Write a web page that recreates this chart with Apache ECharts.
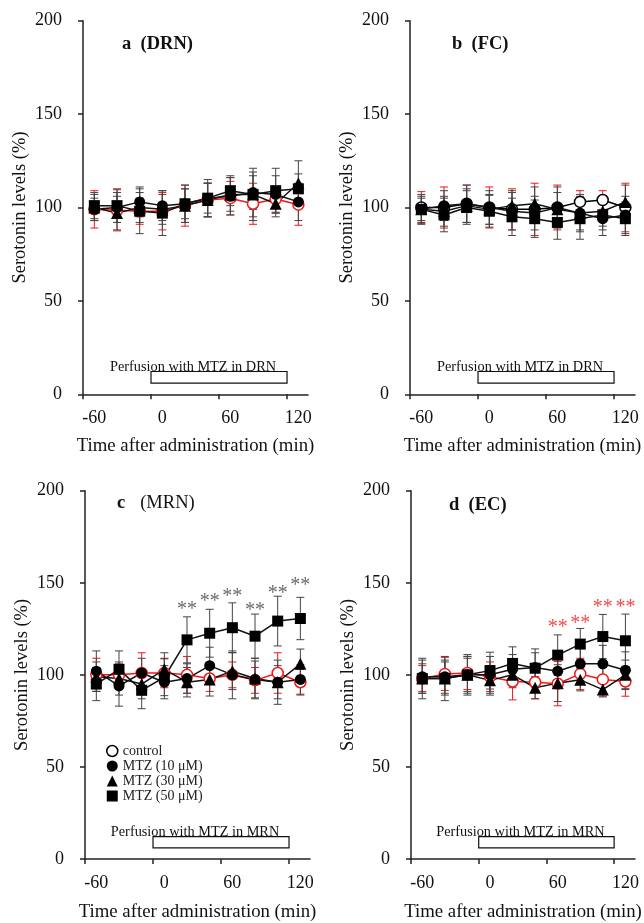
<!DOCTYPE html>
<html>
<head>
<meta charset="utf-8">
<script src="https://cdn.jsdelivr.net/npm/echarts@6/dist/echarts.min.js"></script>
<style>html,body{margin:0;padding:0;background:#fff;}#c{width:644px;height:923px;}</style>
</head>
<body>
<div id="c"></div>
<script>
// ---- data ----
const timePoints = [-60, -40, -20, 0, 20, 40, 60, 80, 100, 120];
const xTickValues = [-70, -10, 50, 110];
const xLabelValues = [-60, 0, 60, 120];
const yTicks = [0, 50, 100, 150, 200];
const seriesNames = ['control', 'MTZ (10 μM)', 'MTZ (30 μM)', 'MTZ (50 μM)'];
const panelTitles = ['a', 'b', 'c', 'd'];
const panelRegions = ['(DRN)', '(FC)', '(MRN)', '(EC)'];
const perfusionTexts = ['Perfusion with MTZ in DRN', 'Perfusion with MTZ in DRN', 'Perfusion with MTZ in MRN', 'Perfusion with MTZ in MRN'];
const perfusionStart = -10;
const perfusionEnd = 110;
const perfusionLow = 6;
const perfusionHigh = 12.2;

// Panel a (DRN)
const ctrlA = [99, 98.5, 98, 98, 101, 104, 105, 102, 104.5, 101.5];
const ctrlA_sd = [10, 11, 7, 10, 11, 9, 9, 11, 7, 11];
const m10A = [99, 100, 103, 101, 102, 105, 106, 108, 107, 103];
const m10A_sd = [6, 8, 8, 8, 8, 8, 10, 9, 10, 10];
const m30A = [100, 97, 100, 99, 101, 104, 107, 107, 102, 113];
const m30A_sd = [7, 9, 8, 8, 9, 9, 9, 12, 7, 12];
const m50A = [101, 101, 98, 97, 102, 105, 109, 107, 109, 110];
const m50A_sd = [7, 9, 12, 12, 10, 10, 8, 14, 12, 8];

// Panel b (FC)
const ctrlB = [100, 100, 102, 100, 99, 99, 100, 103, 104, 100];
const ctrlB_sd = [8.5, 11, 10, 11, 11, 14, 12, 6, 5, 13];
const m10B = [99, 101, 102, 100, 98, 97, 100, 97, 94, 96];
const m10B_sd = [7, 8, 10, 9, 10, 9, 11, 10, 9, 10];
const m30B = [99, 98, 101, 99, 101, 102, 99, 97, 98, 103];
const m30B_sd = [6, 8, 9, 8, 8, 9, 9, 9, 8, 9];
const m50B = [99, 96, 100, 98, 95, 94, 92, 94, 96, 94];
const m50B_sd = [8, 9, 9, 8.5, 10, 10, 9, 11, 8, 9];

// Panel c (MRN)
const ctrlC = [100, 100, 101, 101, 100, 98, 100, 97, 101, 96];
const ctrlC_sd = [9, 6, 11, 8, 10, 7, 7, 7, 11, 7];
const m10C = [102, 94, 101, 96, 98, 105, 100, 97.5, 96, 97.5];
const m10C_sd = [11, 11, 8, 9, 8, 10, 13, 10, 9, 8];
const m30C = [99, 98, 95, 103, 96, 97.5, 102, 98, 96, 106];
const m30C_sd = [8, 9, 8, 9, 8, 9, 10, 11, 12, 8];
const m50C = [95, 103, 91.6, 98.7, 119, 122.6, 125.6, 121, 129.2, 130.6];
const m50C_sd = [9, 10, 10, 10, 12.5, 13, 13.5, 12, 13.5, 11.5];

// Panel d (EC)
const ctrlD = [98, 100.5, 101, 99, 96.4, 96, 95.2, 100.5, 97.5, 96.4];
const ctrlD_sd = [7, 9, 9, 8, 10, 9, 12, 8.5, 9, 8];
const m10D = [99, 99, 100, 100, 103, 104, 102, 106, 106, 102.5];
const m10D_sd = [9, 9, 10, 10, 8, 8, 9, 9, 10, 10];
const m30D = [98, 98, 100, 97, 100, 93, 95.5, 97.3, 92, 100];
const m30D_sd = [8, 9, 9, 8, 7, 6, 10, 6, 4, 8];
const m50D = [98, 98, 100, 102.3, 106.2, 103.6, 110.7, 116.7, 120.8, 118.5];
const m50D_sd = [11, 12, 11, 10, 9, 10.5, 11, 8.5, 12, 14.5];

// significance markers
const sigC_x = [20, 40, 60, 80, 100, 120];
const sigC_y = [138, 142.5, 145, 137.6, 147, 151];
const sigD_x = [60, 80, 100, 120];
const sigD_y = [128.5, 130.6, 139, 139];

// ---- build chart ----
const FONT = 'Liberation Serif';
const RED = '#f01818';
const panels = [
  {means: [ctrlA, m10A, m30A, m50A], sds: [ctrlA_sd, m10A_sd, m30A_sd, m50A_sd], ctrlLine: RED, sigX: null, sigY: null, sigColor: null},
  {means: [ctrlB, m10B, m30B, m50B], sds: [ctrlB_sd, m10B_sd, m30B_sd, m50B_sd], ctrlLine: '#000', sigX: null, sigY: null, sigColor: null},
  {means: [ctrlC, m10C, m30C, m50C], sds: [ctrlC_sd, m10C_sd, m30C_sd, m50C_sd], ctrlLine: RED, sigX: sigC_x, sigY: sigC_y, sigColor: '#444'},
  {means: [ctrlD, m10D, m30D, m50D], sds: [ctrlD_sd, m10D_sd, m30D_sd, m50D_sd], ctrlLine: RED, sigX: sigD_x, sigY: sigD_y, sigColor: RED}
];
const gridPos = [
  {left: 83, top: 20.7, width: 225, height: 373.6},
  {left: 410, top: 20.7, width: 225, height: 373.6},
  {left: 85, top: 490.7, width: 225, height: 371.3},
  {left: 411, top: 490.7, width: 224, height: 371.3}
];
const xNameGaps = [42, 42, 44, 44];
const titlePos = [
  {left: 122, top: 35}, {left: 452, top: 35}, {left: 117, top: 494}, {left: 449, top: 496}
];
const symbols = ['circle', 'circle', 'triangle', 'rect'];
const symbolSizes = [11, 11, 12, 11];

const grids = [], xAxes = [], yAxes = [], series = [], titles = [];

panels.forEach((p, k) => {
  grids.push(Object.assign({containLabel: false}, gridPos[k]));
  xAxes.push({
    type: 'value', gridIndex: k, min: -70, max: 128.5,
    name: 'Time after administration (min)', nameLocation: 'middle', nameGap: xNameGaps[k],
    nameTextStyle: {fontFamily: FONT, fontSize: 18.8, color: '#111'},
    axisLine: {onZero: false, lineStyle: {color: '#222', width: 1.5}},
    axisTick: {show: true, inside: false, length: 5, customValues: xTickValues, lineStyle: {color: '#222', width: 1.5}},
    axisLabel: {customValues: xLabelValues, fontFamily: FONT, fontSize: 18, color: '#111', margin: 15},
    splitLine: {show: false}
  });
  yAxes.push({
    type: 'value', gridIndex: k, min: 0, max: 200, interval: 50,
    name: 'Serotonin levels (%)', nameLocation: 'middle', nameGap: 53, nameRotate: 90,
    nameTextStyle: {fontFamily: FONT, fontSize: 18.5, color: '#111'},
    axisLine: {show: true, onZero: false, lineStyle: {color: '#222', width: 1.5}},
    axisTick: {show: true, inside: false, length: 5, lineStyle: {color: '#222', width: 1.5}},
    axisLabel: {fontFamily: FONT, fontSize: 18, color: '#111', margin: 21},
    splitLine: {show: false}
  });
  titles.push({
    text: k === 2 ? '{b|' + panelTitles[k] + '}   {n|' + panelRegions[k] + '}' : '{b|' + panelTitles[k] + '  ' + panelRegions[k] + '}',
    left: titlePos[k].left, top: titlePos[k].top, padding: 0,
    textStyle: {rich: {
      b: {fontFamily: FONT, fontSize: 18.5, fontWeight: 'bold', color: '#111'},
      n: {fontFamily: FONT, fontSize: 18.5, fontWeight: 'normal', color: '#111'}
    }}
  });

  // error bars
  p.means.forEach((m, si) => {
    const sd = p.sds[si];
    const col = si === 0 ? RED : '#444';
    series.push({
      type: 'custom', xAxisIndex: k, yAxisIndex: k, z: 1, silent: true,
      data: timePoints.map((t, i) => [t, m[i] - sd[i], m[i] + sd[i]]),
      encode: {x: 0, y: [1, 2]},
      renderItem: function (params, api) {
        const x = api.value(0);
        const lo = api.coord([x, api.value(1)]);
        const hi = api.coord([x, api.value(2)]);
        const w = 4;
        const st = {stroke: col, lineWidth: 1};
        return {type: 'group', children: [
          {type: 'line', shape: {x1: lo[0], y1: lo[1], x2: hi[0], y2: hi[1]}, style: st},
          {type: 'line', shape: {x1: lo[0] - w, y1: lo[1], x2: lo[0] + w, y2: lo[1]}, style: st},
          {type: 'line', shape: {x1: hi[0] - w, y1: hi[1], x2: hi[0] + w, y2: hi[1]}, style: st}
        ]};
      }
    });
  });

  // lines
  p.means.forEach((m, si) => {
    const isCtrl = si === 0;
    const s = {
      name: seriesNames[si], type: 'line', xAxisIndex: k, yAxisIndex: k, z: 3,
      data: timePoints.map((t, i) => [t, m[i]]),
      symbol: symbols[si], symbolSize: symbolSizes[si], showAllSymbol: true,
      lineStyle: {color: isCtrl ? p.ctrlLine : '#111', width: 1.5},
      itemStyle: isCtrl ? {color: '#fff', borderColor: p.ctrlLine, borderWidth: 1.5} : {color: '#000', borderColor: '#000', borderWidth: 0},
      emphasis: {disabled: true}
    };
    if (isCtrl) {
      s.markArea = {
        silent: true,
        itemStyle: {color: '#fff', borderColor: '#111', borderWidth: 1.2, opacity: 1},
        label: {show: true, position: 'top', distance: 0, offset: [-26, 3], formatter: perfusionTexts[k], fontFamily: FONT, fontSize: 14.3, color: '#111'},
        data: [[{coord: [perfusionStart, perfusionLow]}, {coord: [perfusionEnd, perfusionHigh]}]]
      };
    }
    series.push(s);
  });

  // significance markers
  if (p.sigX) {
    series.push({
      type: 'scatter', xAxisIndex: k, yAxisIndex: k, z: 4, silent: true,
      symbolSize: 0,
      data: p.sigX.map((x, i) => [x, p.sigY[i]]),
      label: {show: true, position: 'inside', formatter: '**', offset: [0, 5], fontFamily: FONT, fontSize: 20, color: p.sigColor}
    });
  }
});

const chart = echarts.init(document.getElementById('c'), null, {renderer: 'canvas'});
chart.setOption({
  animation: false,
  backgroundColor: '#fff',
  title: titles,
  grid: grids,
  xAxis: xAxes,
  yAxis: yAxes,
  legend: {
    orient: 'vertical', left: 106, top: 744, padding: 0, itemGap: 1, itemWidth: 11, itemHeight: 11,
    textStyle: {fontFamily: FONT, fontSize: 14, lineHeight: 13.5, color: '#222'},
    selectedMode: false,
    data: [
      {name: seriesNames[0], icon: 'circle', itemStyle: {color: '#fff', borderColor: '#000', borderWidth: 1.5}},
      {name: seriesNames[1], icon: 'circle', itemStyle: {color: '#000'}},
      {name: seriesNames[2], icon: 'triangle', itemStyle: {color: '#000'}},
      {name: seriesNames[3], icon: 'rect', itemStyle: {color: '#000'}}
    ]
  },
  series: series
});
</script>
</body>
</html>
